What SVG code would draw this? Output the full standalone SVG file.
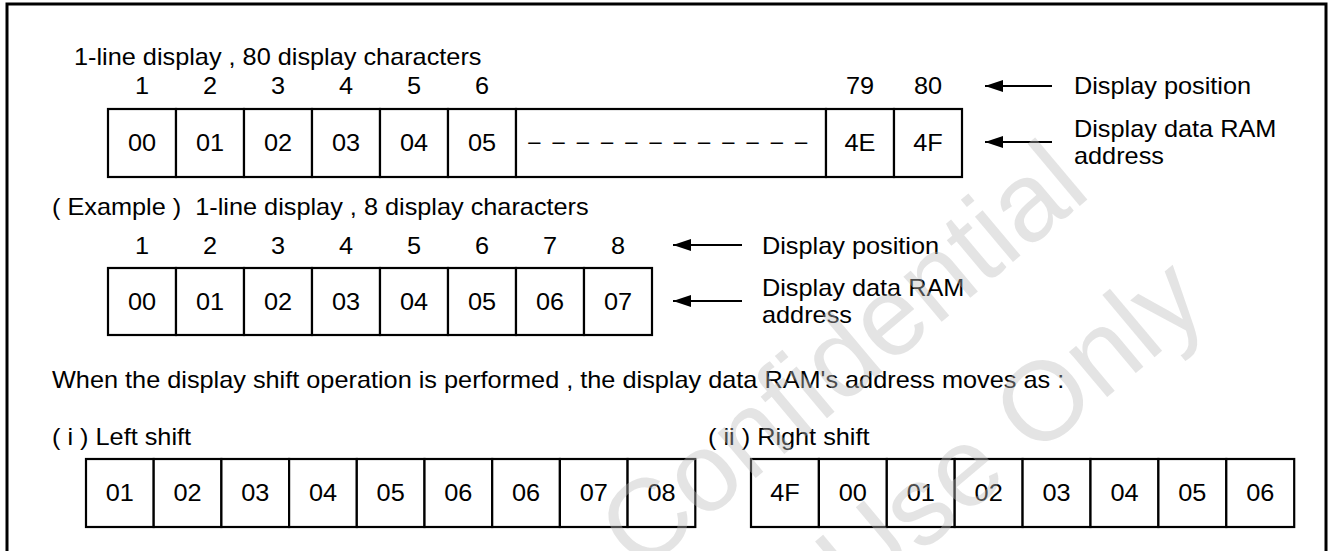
<svg xmlns="http://www.w3.org/2000/svg" width="1328" height="551" viewBox="0 0 1328 551">
<style>
text{font-family:"Liberation Sans",Arial,sans-serif;font-size:23px;fill:#000}
.c{text-anchor:middle}
.cell{fill:#fff;stroke:#000;stroke-width:2.2}
.arr{stroke:#000;stroke-width:2;fill:none;marker-end:url(#ah)}
.wm{font-size:112px;fill:#bbbbbb;fill-opacity:0.4}
</style>
<defs>
<marker id="ah" markerUnits="userSpaceOnUse" markerWidth="20" markerHeight="14" viewBox="0 0 20 14" refX="18" refY="6" orient="auto">
<path d="M0,0 L18,6 L0,12 z" fill="#000"/>
</marker>
</defs>
<rect x="0" y="0" width="1328" height="551" fill="#fff"/>
<rect id="frame" x="7" y="4" width="1319" height="600" fill="none" stroke="#000" stroke-width="3"/>
<g id="labels">
<text transform="matrix(1.1 0 0 1 74 65)">1-line display , 80 display characters</text>
<text transform="matrix(1.1 0 0 1 52 215)">( Example )&#160; 1-line display , 8 display characters</text>
<text transform="matrix(1.1 0 0 1 52 388)">When the display shift operation is performed , the display data RAM's address moves as :</text>
<text transform="matrix(1.1 0 0 1 52 445)">( i ) Left shift</text>
<text transform="matrix(1.1 0 0 1 708 445)">( ii ) Right shift</text>
<text transform="matrix(1.1 0 0 1 1074 94)">Display position</text>
<text transform="matrix(1.1 0 0 1 1074 137)">Display data RAM</text>
<text transform="matrix(1.1 0 0 1 1074 164)">address</text>
<text transform="matrix(1.1 0 0 1 762 254)">Display position</text>
<text transform="matrix(1.1 0 0 1 762 296)">Display data RAM</text>
<text transform="matrix(1.1 0 0 1 762 323)">address</text>
</g>
<g id="positions80">
<text class="c" transform="matrix(1.1 0 0 1 142 94)">1</text>
<text class="c" transform="matrix(1.1 0 0 1 210 94)">2</text>
<text class="c" transform="matrix(1.1 0 0 1 278 94)">3</text>
<text class="c" transform="matrix(1.1 0 0 1 346 94)">4</text>
<text class="c" transform="matrix(1.1 0 0 1 414 94)">5</text>
<text class="c" transform="matrix(1.1 0 0 1 482 94)">6</text>
<text class="c" transform="matrix(1.1 0 0 1 860 94)">79</text>
<text class="c" transform="matrix(1.1 0 0 1 928 94)">80</text>
</g>
<g id="row80">
<g id="r80-00"><rect class="cell" x="108" y="109" width="68" height="68"/><text class="c" transform="matrix(1.1 0 0 1 142 151)">00</text></g>
<g id="r80-01"><rect class="cell" x="176" y="109" width="68" height="68"/><text class="c" transform="matrix(1.1 0 0 1 210 151)">01</text></g>
<g id="r80-02"><rect class="cell" x="244" y="109" width="68" height="68"/><text class="c" transform="matrix(1.1 0 0 1 278 151)">02</text></g>
<g id="r80-03"><rect class="cell" x="312" y="109" width="68" height="68"/><text class="c" transform="matrix(1.1 0 0 1 346 151)">03</text></g>
<g id="r80-04"><rect class="cell" x="380" y="109" width="68" height="68"/><text class="c" transform="matrix(1.1 0 0 1 414 151)">04</text></g>
<g id="r80-05"><rect class="cell" x="448" y="109" width="68" height="68"/><text class="c" transform="matrix(1.1 0 0 1 482 151)">05</text></g>
<g id="r80-gap"><rect class="cell" x="516" y="109" width="310" height="68"/><text transform="matrix(1.1 0 0 1 527 151)" textLength="256" lengthAdjust="spacing">− − − − − − − − − − − −</text></g>
<g id="r80-4E"><rect class="cell" x="826" y="109" width="68" height="68"/><text class="c" transform="matrix(1.1 0 0 1 860 151)">4E</text></g>
<g id="r80-4F"><rect class="cell" x="894" y="109" width="68" height="68"/><text class="c" transform="matrix(1.1 0 0 1 928 151)">4F</text></g>
</g>
<g id="positions8">
<text class="c" transform="matrix(1.1 0 0 1 142 254)">1</text>
<text class="c" transform="matrix(1.1 0 0 1 210 254)">2</text>
<text class="c" transform="matrix(1.1 0 0 1 278 254)">3</text>
<text class="c" transform="matrix(1.1 0 0 1 346 254)">4</text>
<text class="c" transform="matrix(1.1 0 0 1 414 254)">5</text>
<text class="c" transform="matrix(1.1 0 0 1 482 254)">6</text>
<text class="c" transform="matrix(1.1 0 0 1 550 254)">7</text>
<text class="c" transform="matrix(1.1 0 0 1 618 254)">8</text>
</g>
<g id="row8">
<g id="r8-00"><rect class="cell" x="108" y="268" width="68" height="67"/><text class="c" transform="matrix(1.1 0 0 1 142 310)">00</text></g>
<g id="r8-01"><rect class="cell" x="176" y="268" width="68" height="67"/><text class="c" transform="matrix(1.1 0 0 1 210 310)">01</text></g>
<g id="r8-02"><rect class="cell" x="244" y="268" width="68" height="67"/><text class="c" transform="matrix(1.1 0 0 1 278 310)">02</text></g>
<g id="r8-03"><rect class="cell" x="312" y="268" width="68" height="67"/><text class="c" transform="matrix(1.1 0 0 1 346 310)">03</text></g>
<g id="r8-04"><rect class="cell" x="380" y="268" width="68" height="67"/><text class="c" transform="matrix(1.1 0 0 1 414 310)">04</text></g>
<g id="r8-05"><rect class="cell" x="448" y="268" width="68" height="67"/><text class="c" transform="matrix(1.1 0 0 1 482 310)">05</text></g>
<g id="r8-06"><rect class="cell" x="516" y="268" width="68" height="67"/><text class="c" transform="matrix(1.1 0 0 1 550 310)">06</text></g>
<g id="r8-07"><rect class="cell" x="584" y="268" width="68" height="67"/><text class="c" transform="matrix(1.1 0 0 1 618 310)">07</text></g>
</g>
<g id="rowLeft">
<g id="L-1"><rect class="cell" x="86" y="459" width="67.7" height="68"/><text class="c" transform="matrix(1.1 0 0 1 119.85 501)">01</text></g>
<g id="L-2"><rect class="cell" x="153.7" y="459" width="67.7" height="68"/><text class="c" transform="matrix(1.1 0 0 1 187.55 501)">02</text></g>
<g id="L-3"><rect class="cell" x="221.4" y="459" width="67.7" height="68"/><text class="c" transform="matrix(1.1 0 0 1 255.25 501)">03</text></g>
<g id="L-4"><rect class="cell" x="289.1" y="459" width="67.7" height="68"/><text class="c" transform="matrix(1.1 0 0 1 322.95 501)">04</text></g>
<g id="L-5"><rect class="cell" x="356.8" y="459" width="67.7" height="68"/><text class="c" transform="matrix(1.1 0 0 1 390.65 501)">05</text></g>
<g id="L-6"><rect class="cell" x="424.5" y="459" width="67.7" height="68"/><text class="c" transform="matrix(1.1 0 0 1 458.35 501)">06</text></g>
<g id="L-7"><rect class="cell" x="492.2" y="459" width="67.7" height="68"/><text class="c" transform="matrix(1.1 0 0 1 526.05 501)">06</text></g>
<g id="L-8"><rect class="cell" x="559.9" y="459" width="67.7" height="68"/><text class="c" transform="matrix(1.1 0 0 1 593.75 501)">07</text></g>
<g id="L-9"><rect class="cell" x="627.6" y="459" width="67.7" height="68"/><text class="c" transform="matrix(1.1 0 0 1 661.45 501)">08</text></g>
</g>
<g id="rowRight">
<g id="R-1"><rect class="cell" x="751" y="459" width="67.9" height="68"/><text class="c" transform="matrix(1.1 0 0 1 784.95 501)">4F</text></g>
<g id="R-2"><rect class="cell" x="818.9" y="459" width="67.9" height="68"/><text class="c" transform="matrix(1.1 0 0 1 852.85 501)">00</text></g>
<g id="R-3"><rect class="cell" x="886.8" y="459" width="67.9" height="68"/><text class="c" transform="matrix(1.1 0 0 1 920.75 501)">01</text></g>
<g id="R-4"><rect class="cell" x="954.7" y="459" width="67.9" height="68"/><text class="c" transform="matrix(1.1 0 0 1 988.65 501)">02</text></g>
<g id="R-5"><rect class="cell" x="1022.6" y="459" width="67.9" height="68"/><text class="c" transform="matrix(1.1 0 0 1 1056.55 501)">03</text></g>
<g id="R-6"><rect class="cell" x="1090.5" y="459" width="67.9" height="68"/><text class="c" transform="matrix(1.1 0 0 1 1124.45 501)">04</text></g>
<g id="R-7"><rect class="cell" x="1158.4" y="459" width="67.9" height="68"/><text class="c" transform="matrix(1.1 0 0 1 1192.35 501)">05</text></g>
<g id="R-8"><rect class="cell" x="1226.3" y="459" width="67.9" height="68"/><text class="c" transform="matrix(1.1 0 0 1 1260.25 501)">06</text></g>
</g>
<g id="connectors">
<line class="arr" x1="1052" y1="86" x2="985" y2="86"/>
<line class="arr" x1="1052" y1="142" x2="985" y2="142"/>
<line class="arr" x1="742" y1="245" x2="673" y2="245"/>
<line class="arr" x1="742" y1="301" x2="673" y2="301"/>
</g>
<g id="watermark">
<text class="wm" transform="translate(640,575) rotate(-40)">Confidential</text>
<text class="wm" transform="translate(858,606) rotate(-40)">Use Only</text>
</g>
</svg>
